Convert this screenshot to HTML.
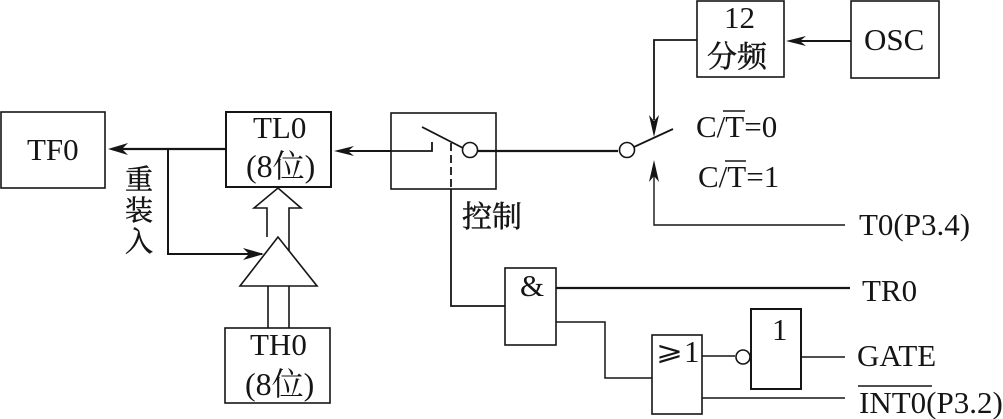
<!DOCTYPE html>
<html>
<head>
<meta charset="utf-8">
<style>
html,body{margin:0;padding:0;background:#fff;}
svg{display:block;}
text{font-family:"Liberation Serif","Noto Serif CJK SC",serif;fill:#151515;}
.cjk{stroke:#151515;stroke-width:0.5;}
</style>
</head>
<body>
<svg width="1003" height="419" viewBox="0 0 1003 419" xmlns="http://www.w3.org/2000/svg">
<g fill="none" stroke="#151515" stroke-width="1.6">
<rect x="1" y="112" width="104" height="76"/>
<rect x="226" y="112" width="105" height="75" stroke-width="2"/>
<rect x="225" y="328" width="105" height="75"/>
<rect x="391" y="113" width="105" height="76"/>
<rect x="697" y="1" width="87" height="76"/>
<rect x="851" y="1" width="88" height="77"/>
<rect x="505" y="268" width="51" height="77"/>
<rect x="652" y="335" width="50" height="79"/>
<rect x="751" y="309" width="50" height="80" stroke-width="2"/>
<path d="M226 149H112" stroke-width="2.2"/>
<path d="M168 149V254H262" stroke-width="2"/>
<path d="M267 237V208H254L278 188L301 208H289V252"/>
<path d="M278 237L240 286H317Z" fill="#fff"/>
<path d="M268 286V328M289 286V328"/>
<path d="M391 151H432V142" stroke-width="1.8"/>
<path d="M340 151H391" stroke-width="2"/>
<path d="M422 127L463 148" stroke-width="1.8"/>
<circle cx="470" cy="150" r="7.5"/>
<path d="M478 151H618" stroke-width="2.2"/>
<circle cx="627" cy="150" r="7.5"/>
<path d="M634 147L673 129" stroke-width="1.8"/>
<path d="M451 143V189" stroke-dasharray="8 4" stroke-width="1.8"/>
<path d="M451 189V306H505" stroke-width="1.8"/>
<path d="M851 41H790" stroke-width="2"/>
<path d="M697 40H654V120" stroke-width="1.8"/>
<path d="M654 165V225H845" stroke-width="1.4"/>
<path d="M556 288H850" stroke-width="2.2"/>
<path d="M556 322H605V378H652" stroke-width="1.5"/>
<path d="M702 356H735" stroke-width="1.5"/>
<circle cx="743" cy="357" r="7"/>
<path d="M801 357H845M702 398H845" stroke-width="1.5"/>
<path d="M723 111H745M725 161H746M858 386H932" stroke-width="1.4"/>
</g>
<g fill="#151515">
<path d="M108 149L128 143L122 149L128 155Z"/>
<path d="M264 254L243 248L249 254L243 260Z"/>
<path d="M334 151L354 146L348 151L354 156Z"/>
<path d="M786 41L806 36L800 41L806 46Z"/>
<path d="M654 137L649 115L654 121L659 115Z"/>
<path d="M654 160L649 182L654 176L659 182Z"/>
</g>
<g font-size="31">
<text x="27" y="160">TF0</text>
<text x="253" y="138">TL0</text>
<text x="246" y="177" font-size="32">(8位)</text>
<text x="250" y="355">TH0</text>
<text x="245" y="395" font-size="32">(8位)</text>
<text x="724" y="28">12</text>
<text x="707" y="67" font-size="30" class="cjk">分频</text>
<text x="864" y="50">OSC</text>
<text x="696" y="137">C/T=0</text>
<text x="698" y="187">C/T=1</text>
<text x="859" y="235">T0(P3.4)</text>
<text x="862" y="301">TR0</text>
<text x="857" y="366">GATE</text>
<text x="859" y="413">INT0(P3.2)</text>
<text x="520" y="296">&amp;</text>
<text x="772" y="340">1</text>
<text x="656" y="360" font-size="26" textLength="27" lengthAdjust="spacingAndGlyphs">⩾</text>
<text x="684" y="362">1</text>
<text x="125" y="189" font-size="28" class="cjk">重</text>
<text x="125" y="220" font-size="28" class="cjk">装</text>
<text x="125" y="251" font-size="28" class="cjk">入</text>
<text x="462" y="227" font-size="30" class="cjk">控制</text>
</g>
</svg>
</body>
</html>
